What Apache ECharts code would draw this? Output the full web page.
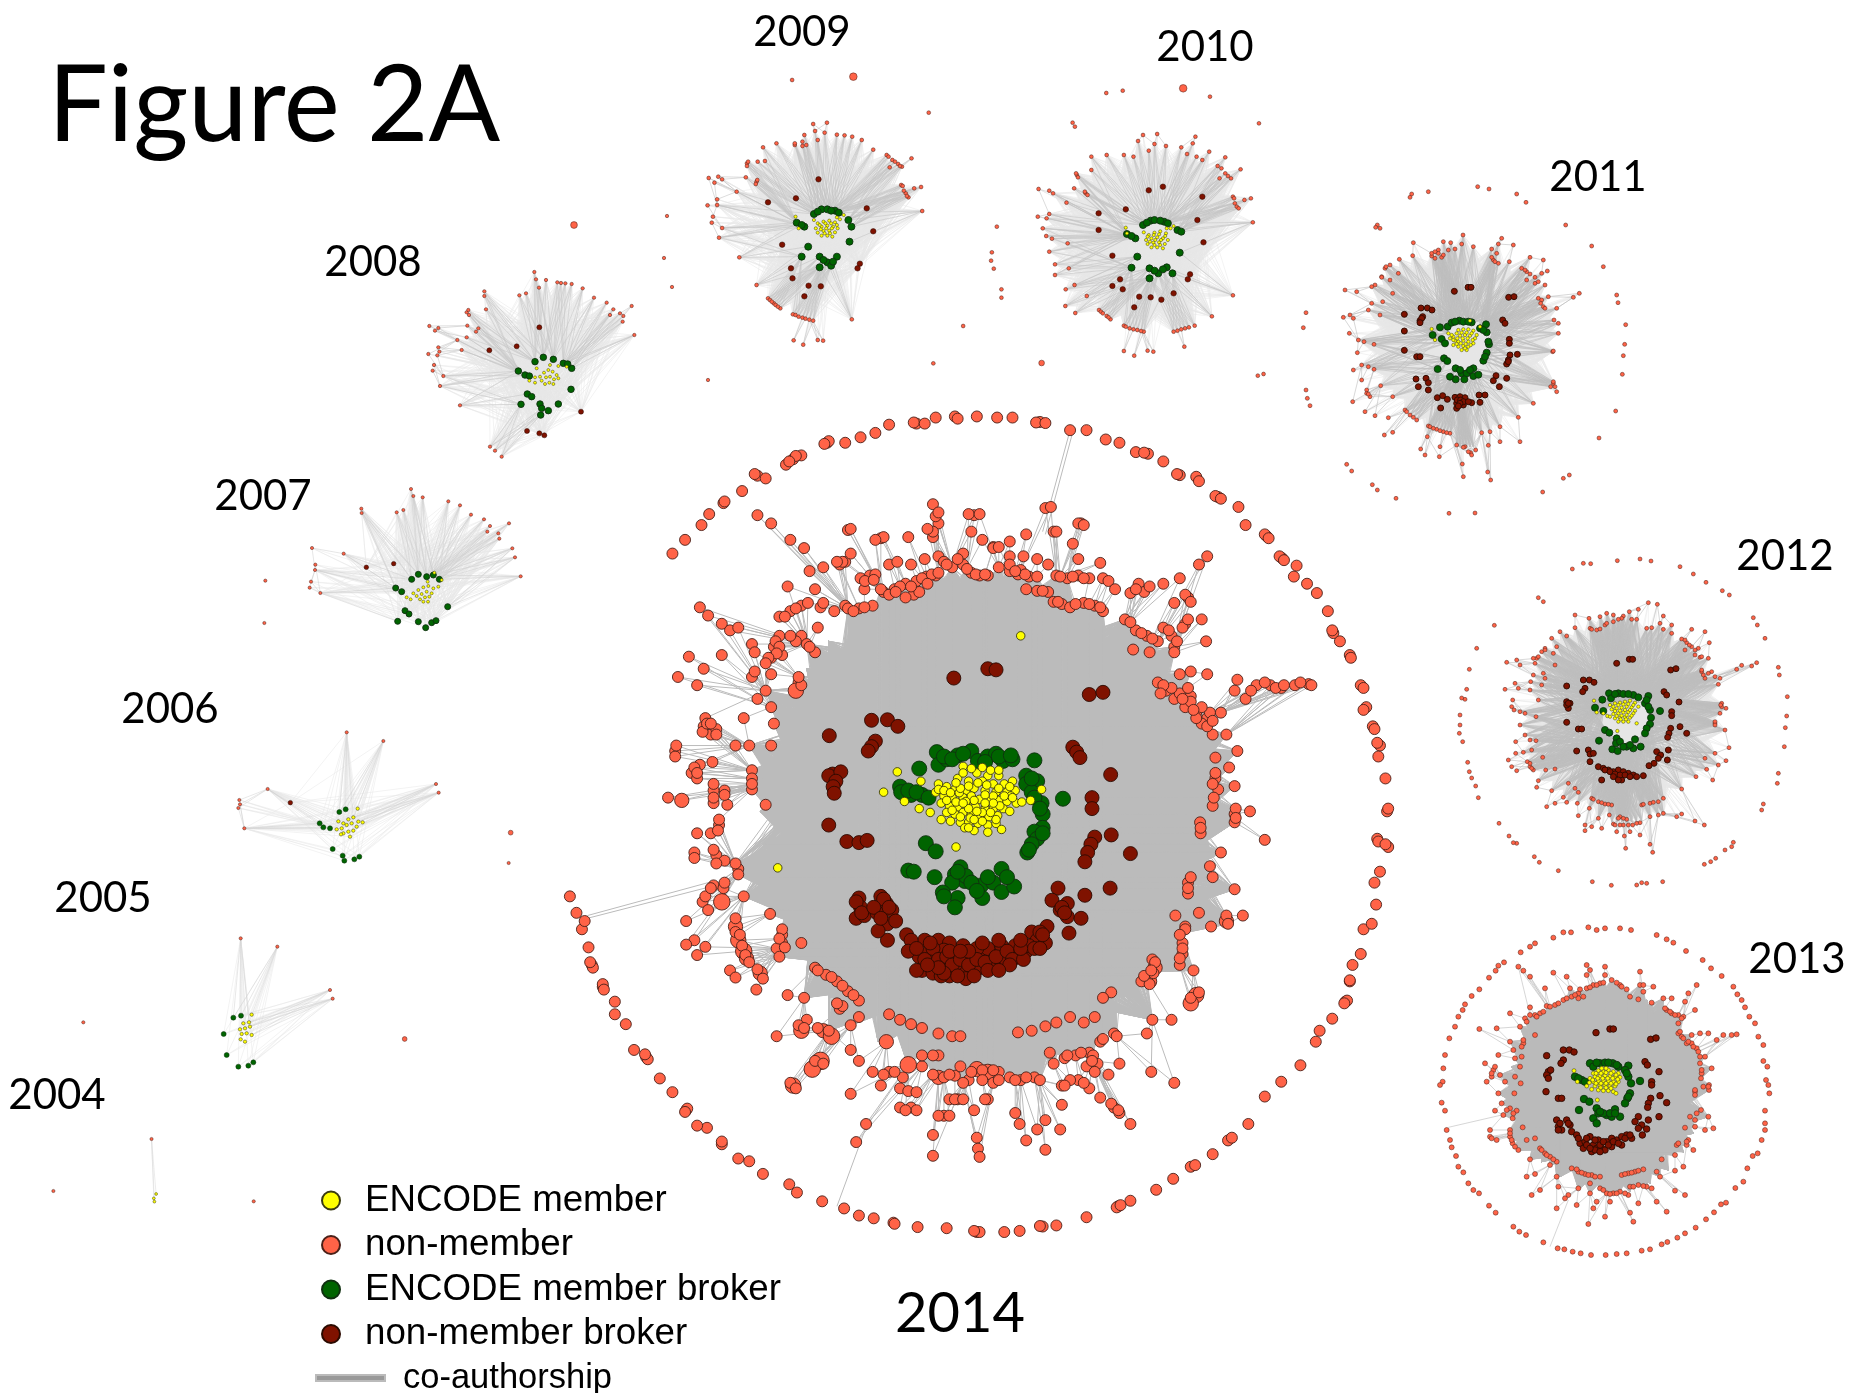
<!DOCTYPE html>
<html>
<head>
<meta charset="utf-8">
<title>Figure 2A</title>
<script src="https://cdn.jsdelivr.net/npm/echarts@6/dist/echarts.min.js"></script>
<style>
html, body { margin: 0; padding: 0; background: #fff; }
#chart { width: 1850px; height: 1393px; }
</style>
</head>
<body>
<div id="chart"></div>
<script>
// Year captions in page pixels
const yearNames = ['2004', '2005', '2006', '2007', '2008', '2009', '2010', '2011', '2012', '2013', '2014'];
const yearX = [57, 103, 170, 263, 373, 802, 1205, 1598, 1785, 1797, 960];
const yearY = [1095, 898, 709, 496, 262, 32, 47, 177, 556, 959, 1314];

// Node positions per year. Each year uses the axis units in its own grid below.
// third number = relative node degree where a node is clearly larger

// ---- 2014 ----
const outer2014 = [[205,280],[228,255],[258,228],[272,208],[298,188],[332,166],[360,138],[375,143],[412,118],[425,108],[440,101],[487,78],[520,78],[548,68],[575,60],[600,45],[650,43],[645,41],[685,32],[720,30],[725,34],[760,30],[797,32],[825,32],[875,40],[868,41],[885,42],[930,55],[960,55],[995,72],[1020,78],[1050,95],[1072,98],[1065,96],[1100,112],[1130,137],[1160,140],[1165,148],[1200,177],[1237,195],[1250,228],[1288,248],[1316,288],[1343,302],[1338,322],[1362,335],[1380,352],[1400,385],[1410,425],[1422,440],[1440,465],[1460,520],[1470,560],[1482,595],[1495,630],[1492,650],[1505,690],[1508,750],[1510,815],[1490,800],[1495,860],[1485,880],[1488,920],[1465,965],[1480,955],[1460,1010],[1445,1030],[1440,1060],[1432,1097],[1408,1128],[1385,1150],[1378,1170],[1350,1213],[1315,1243],[1285,1270],[1255,1320],[1218,1350],[1190,1375],[1150,1398],[1118,1420],[1087,1440],[1040,1460],[1018,1470],[960,1490],[905,1505],[880,1507],[838,1515],[810,1517],[760,1517],[705,1510],[652,1508],[608,1500],[572,1492],[545,1487],[518,1474],[478,1461],[432,1445],[418,1430],[370,1411],[345,1388],[325,1383],[295,1357],[268,1327],[250,1323],[230,1295],[205,1262],[182,1237],[157,1198],[135,1185],[120,1138],[100,1120],[100,1097],[78,1070],[58,1030],[52,998],[40,965],[45,950],[30,935],[18,905],[665,43],[490,75],[482,80],[430,102],[418,112],[355,135],[300,185],[1125,135],[1195,175],[1205,180],[1285,245],[1292,252],[1312,285],[1320,292],[1408,420],[1442,470],[1465,525],[1465,565],[1485,600],[1490,625],[1510,745],[1492,805],[1505,810],[1225,1345],[1015,1472],[1022,1468],[765,1517],[755,1515],[875,1506],[610,1502],[295,1352],[232,1292],[228,1298],[60,1035],[55,1025],[78,1065],[80,1075],[160,1202],[155,1193],[1435,1095],[1430,1100],[1440,1058],[1158,1395]];
const rim2014 = [[520,295],[510,300],[530,280],[565,320],[575,318],[548,325],[555,345],[590,350],[610,345],[630,335],[650,330],[668,322],[685,320],[645,355],[655,350],[600,300],[615,295],[640,300],[665,290],[690,285],[700,295],[715,305],[735,300],[750,315],[765,320],[780,320],[800,305],[820,285],[845,285],[870,290],[890,300],[820,312],[835,318],[855,322],[850,345],[870,348],[890,350],[900,368],[915,372],[930,378],[955,370],[975,375],[990,385],[905,320],[925,325],[945,320],[965,325],[990,325],[680,250],[690,225],[685,212],[680,190],[755,210],[750,240],[770,255],[735,280],[790,268],[820,258],[850,245],[885,197],[900,240],[950,225],[935,262],[945,290],[985,297],[525,237],[585,252],[635,250],[520,375],[545,380],[570,375],[500,385],[475,378],[480,305],[445,270],[420,255],[385,225],[360,210],[255,378],[270,393],[295,408],[310,420],[325,415],[350,445],[355,460],[295,465],[235,468],[262,490],[215,505],[250,520],[400,395],[420,385],[440,375],[465,345],[455,312],[415,340],[400,430],[390,450],[405,465],[385,470],[440,430],[470,415],[450,445],[465,460],[435,515],[430,530,1.4],[385,500],[375,530],[350,505],[360,545],[335,580],[385,560],[390,590],[385,630],[345,630],[320,630],[275,610],[262,595],[285,600],[265,580],[210,640],[255,665],[278,660],[300,712],[280,712],[240,680],[250,690],[350,675],[350,710],[375,738],[305,738],[280,735],[222,730,1.3],[197,725],[290,775],[250,790],[275,790],[245,825],[285,830],[300,840],[325,855],[280,885],[298,890],[335,905],[295,915,1.5],[260,915],[270,930],[230,950],[245,985],[265,997],[230,993],[250,1012],[320,960,1.3],[325,985,1.4],[335,1005,1.5],[340,1018,1.3],[365,1045,1.3],[405,975],[405,990],[395,1000],[440,990],[400,1015],[383,937],[310,1040],[320,1053],[358,1075],[395,1160],[415,1085],[445,1090],[465,1035],[485,1048],[505,1060],[525,1078],[545,1095],[510,1110],[545,1125],[440,1150,1.4],[450,1130],[480,1150,1.3],[495,1160,1.5],[530,1140],[530,1185],[545,1205],[595,1170,1.3],[475,1205,1.6],[460,1220,1.5],[425,1250,1.4],[570,1225],[585,1250],[530,1265],[600,1225],[625,1235],[635,1212,1.5],[660,1215],[690,1195],[640,1290],[620,1290],[650,1295],[700,1305],[690,1235,1.3],[720,1232],[745,1240],[760,1220,1.4],[780,1225,1.4],[800,1225],[790,1245],[820,1235],[840,1240],[865,1235],[725,1275],[755,1295],[780,1275],[830,1300],[838,1320],[870,1330],[912,1330],[915,1285],[885,1313],[680,1340],[760,1345],[762,1365],[765,1380],[680,1378],[850,1350],[885,1367],[558,1320],[540,1353],[600,1120],[620,1130],[640,1138],[660,1145],[690,1155],[715,1160],[730,1160],[835,1153],[860,1150],[885,1142],[905,1135],[930,1125],[955,1135],[975,1125],[893,1190],[920,1200],[940,1195],[965,1190],[985,1170],[1010,1155],[960,1215],[980,1210],[1000,1230],[915,1250],[945,1240],[965,1255],[985,1272],[1010,1290],[1020,1300],[1040,1320],[1078,1225],[1120,1245],[1020,1210],[1070,1155],[1080,1130],[1115,1130],[1160,1085,1.4],[1150,1100,1.4],[1005,1080],[990,1090],[1075,1060,1.3],[1085,1035,1.3],[1060,1060],[1080,1020],[1130,1030],[1135,1010],[1155,1040],[1122,940],[1140,960],[1135,990],[1165,935],[1145,880],[1145,900],[1185,850],[1190,870],[1187,960],[1215,950,1.3],[1230,892],[1245,940],[1285,802],[1167,770],[1168,790],[1205,825],[1230,755],[1230,770],[1258,750],[1195,690],[1200,710],[1190,740],[1220,670],[1230,704],[1195,652],[1235,640],[1215,610],[1190,610],[1205,570],[1180,580],[1160,570],[1140,560],[1120,545],[1105,530],[1090,515],[1150,540],[1170,590],[1185,570],[1130,500],[1150,495],[1180,500],[1235,510],[1250,545],[1270,520],[1295,520],[1315,525],[1340,520],[1365,518],[1230,530],[1115,430],[1100,415],[1120,450],[1075,460],[1045,455],[1030,400],[1050,420],[1070,430],[1090,440],[1140,408],[1170,400],[1178,440],[1120,370],[1145,360],[1055,335],[1065,350],[1100,335],[1130,325],[1165,300],[1180,285],[1040,352],
[556,330],[572,328],[585,345],[600,355],[620,340],[640,340],[660,325],[678,318],[630,360],[612,350],[670,335],[690,315],[705,300],[725,290],[742,308],[758,318],[775,318],[790,270],[800,268],[840,310],[848,318],[870,322],[880,348],[908,368],[940,372],[965,372],[985,378],[690,205],[680,240],[670,235],[745,208],[765,208],[590,250],[575,255],[530,235],[515,295],[505,295],[895,195],[945,225],[955,228],[905,240],[820,300],[830,312],[912,322],[935,322],[955,325],[1000,330],[1012,345],
[393,440],[400,450],[395,462],[410,395],[430,380],[452,370],[525,380],[535,385],[555,378],[480,370],[440,520],[435,505],[455,450],[430,440],[420,430],[380,470],[375,480],[355,495],
[210,650],[212,630],[260,605],[268,590],[275,590],[285,610],[280,700],[280,725],[290,765],[288,785],[350,690],[350,700],[245,670],[250,680],[300,720],[245,835],[280,820],[285,845],[320,845],[325,865],[265,905],[275,890],[300,880],
[320,945],[320,970],[328,975],[332,995],[338,1012],[345,1025],[360,1038],[370,1055],[405,965],[400,982],[410,998],[470,1040],[495,1052],[515,1068],[535,1085],[515,1105],[505,1100],[435,1140],[445,1145],[490,1150],[470,1145],[465,1205],[480,1210],[420,1245],[430,1255],
[680,1230],[700,1235],[710,1230],[730,1215],[735,1245],[750,1225],[770,1222],[790,1222],[770,1240],[800,1240],[830,1240],[850,1235],[875,1240],[620,1255],[635,1260],[650,1262],[660,1195],[680,1195],[610,1225],[590,1230],[630,1295],[710,1275],[720,1275],[735,1275],[775,1275],[690,1305],[710,1305],
[900,1210],[925,1195],[950,1190],[972,1195],[990,1165],[1015,1160],[970,1205],[975,1225],[930,1240],[955,1245],[920,1250],[1005,1283],[1018,1295],[1075,1065],[1082,1045],[1065,1050],[1085,1025],[1078,1040],[1150,1090],[1165,1080],[1135,1000],[1130,1018],[1145,890],[1150,870],[1140,965],[1130,975],[1215,940],[1218,955],
[1190,700],[1195,680],[1192,725],[1168,780],[1232,745],[1232,762],[1170,560],[1150,550],[1130,535],[1115,525],[1100,520],[1160,580],[1180,595],[1190,585],[1135,545],[1145,525],[1095,535],[1155,565],[1305,525],[1320,520],[1350,515],[1370,520],[1260,530],[1285,515],
[1110,420],[1125,440],[1120,460],[1040,405],[1060,425],[1080,435],[1135,415],[1145,400],[1050,345],[1075,340],[1140,355],[1150,368]];
const brown2014 = [[718,507],[780,490],[795,492],[965,537],[990,533],[568,584],[597,583],[616,595],[491,612],[575,622],[568,632],[562,640],[935,633],[942,642],[948,652],[1004,683],[497,682],[490,685],[512,678],[503,695],[498,705],[500,717],[970,725],[970,745],[490,775],[523,805],[545,807],[560,803],[1005,793],[1040,827],[975,797],[968,810],[962,825],[957,842],[1003,890],[908,890],[957,903],[897,912],[925,918],[912,930],[925,942],[950,945],[928,972],[545,908],[548,925],[540,945],[555,940],[585,905],[595,918],[605,930],[578,935],[597,955],[612,950],[597,985],[580,968],[632,975],[640,1000],[655,1015],[660,1040],[670,1010],[690,985],[685,1010],[700,1030],[710,1050],[725,1035],[740,1045],[755,1035],[720,1010],[745,1015],[770,1012],[790,1010],[810,1020],[835,1015],[850,1005],[860,970],[870,985],[885,990],[888,960],[855,995],[830,995],[805,995],[780,1000],[760,1000],[735,995],[710,990],[665,985],[700,1003],[680,1045],[695,1050],[650,1040],[790,1030],[765,1035],
[640,985],[635,1005],[650,1000],[665,1020],[680,1000],[690,1020],[705,1015],[715,1030],[730,1020],[745,1030],[760,1020],[775,1025],[780,1040],[795,1015],[815,1005],[825,1020],[845,1020],[865,1000],[875,970],[880,975],[840,1000],[820,1030],[800,1040],[740,1055],[725,1050],[700,1045],[690,1035],[670,1030],[675,990],[710,1005],[755,1050],[840,985],[800,985],[770,990],[745,1005],[730,1005],[875,1000],[540,915],[550,935],[590,910],[600,925],[572,925],[585,945],[915,925],[920,935]];
const green2014 = [[687,642],[690,665],[705,655],[725,648],[750,640],[762,658],[780,650],[795,645],[808,658],[825,655],[865,657],[850,685],[870,695],[850,700],[860,715],[878,735],[880,755],[917,727],[655,672],[620,705],[640,720],[660,720],[622,715],[880,780],[865,787],[870,800],[860,810],[852,825],[667,808],[685,823],[635,858],[645,860],[683,870],[720,865],[730,852],[738,877],[768,885],[805,855],[790,880],[805,897],[828,887],[715,880],[698,898],[725,908],[720,925],[770,908],[700,650],[715,655],[735,645],[775,660],[800,650],[822,648],[860,690],[865,725],[875,745],[635,712],[650,715],[672,725],[855,820],[880,790],[740,868],[750,880],[760,895],[780,870],[725,860],[815,870],[700,905]];
const yellow2014 = [[735,668],[760,680],[780,685],[800,685],[725,690],[745,695],[770,695],[790,700],[810,700],[825,695],[690,700],[705,705],[720,710],[740,712],[755,708],[775,712],[795,715],[815,715],[830,712],[685,715],[700,722],[715,725],[735,725],[750,722],[765,728],[785,730],[800,730],[815,732],[832,735],[695,735],[710,740],[725,742],[742,738],[758,742],[775,745],[790,745],[808,745],[820,750],[705,752],[720,755],[735,752],[750,755],[765,760],[782,760],[798,758],[712,768],[730,770],[745,770],[762,772],[780,775],[795,772],[695,765],[755,785],[780,788],[805,783],[615,678],[658,695],[628,732],[675,752],[655,745],[722,815],[842,733],[858,730],[878,710],[840,430],[397,853],[590,715],[690,710],[700,712],[712,716],[728,716],[745,704],[762,698],[778,702],[800,708],[822,722],[810,722],[790,722],[775,720],[755,730],[740,732],[722,733],[705,730],[715,748],[730,760],[748,762],[770,752],[785,752],[802,740],[790,735],[775,735],[760,750],[745,745],[735,735],[730,708],[795,765],[770,768],[755,765],[722,698],[735,680],[750,672],[770,670],[785,675],[800,675],[738,780],[745,780],[820,705],[825,725]];
const spurs2014 = [[[930,55],[880,240]],[[935,58],[885,245]],[[50,940],[270,880]],[[50,945],[272,888]],[[505,1470],[560,1320]]];
// where the edge bundles reach the edge of the grey disc
const discEdge2014 = [[770,318],[700,325],[640,345],[580,375],[530,400],[490,440],[450,490],[420,530],[395,580],[380,630],[370,690],[365,750],[370,810],[380,870],[395,930],[420,985],[450,1040],[490,1090],[530,1130],[580,1170],[630,1200],[700,1225],[770,1235],[840,1230],[900,1210],[960,1180],[1010,1140],[1055,1090],[1090,1040],[1120,990],[1150,930],[1170,870],[1185,810],[1190,750],[1188,690],[1175,630],[1150,580],[1120,520],[1080,470],[1040,430],[990,390],[930,355],[860,330]];

// ---- 2013 ----
const outer2013 = [[603,90],[570,85],[525,85],[500,90],[475,82],[423,97],[400,97],[370,113],[315,130],[300,140],[272,157],[222,187],[205,197],[197,212],[177,233],[148,268],[125,288],[105,313],[98,330],[85,350],[75,380],[58,415],[45,465],[40,505],[38,545],[30,555],[35,608],[45,632],[50,690],[60,720],[65,742],[78,768],[85,800],[100,817],[115,850],[130,870],[147,880],[177,917],[197,938],[250,980],[268,995],[288,1005],[340,1027],[383,1045],[403,1048],[428,1055],[452,1060],[483,1065],[527,1065],[560,1062],[590,1060],[635,1052],[660,1048],[695,1033],[712,1026],[742,1013],[765,1000],[797,983],[828,958],[852,937],[873,913],[888,908],[916,864],[940,845],[952,805],[983,760],[968,768],[995,720],[1005,690],[1005,670],[1005,632],[1018,580],[1015,555],[1008,540],[1012,500],[1000,483],[1000,435],[985,410],[975,370],[958,350],[945,322],[935,300],[922,283],[910,260],[875,228],[843,205],[818,180],[768,153],[730,128],[710,118],[680,105]];
const rim2013 = [[470,195],[480,210],[470,225],[525,200],[525,225],[410,230],[370,218],[345,265],[420,265],[445,280],[470,265],[490,255],[510,250],[545,240],[570,255],[590,268],[630,215],[630,255],[640,275],[600,290],[625,298],[665,308],[445,295],[425,290],[400,300],[375,315],[350,318],[330,340],[315,345],[300,322],[285,355],[270,380],[315,405],[265,200],[280,212],[300,230],[240,340],[200,385],[148,387],[205,465],[165,490],[240,425],[250,450],[280,430],[275,470],[255,475],[270,500],[255,530],[210,525],[190,510],[185,530],[170,545],[225,545],[272,550],[253,580],[205,580],[215,610],[240,625],[260,632],[220,645],[248,655],[195,632],[180,690],[180,710],[185,715],[200,720],[240,690],[240,710],[248,730],[265,750],[278,682],[315,715],[290,720],[300,778],[330,745],[345,760],[360,770],[380,785],[360,795],[315,822],[290,830],[305,885],[330,870],[380,830],[385,860],[415,885],[440,915],[405,895],[380,925],[445,865],[480,850],[480,880],[500,905],[490,925],[525,950],[475,972],[540,905],[600,938],[610,965],[625,910],[680,905],[710,935],[425,805],[445,815],[465,822],[485,825],[510,830],[575,825],[595,820],[615,815],[640,808],[510,865],[530,880],[550,880],[570,875],[595,885],[600,860],[625,855],[650,860],[665,865],[690,830],[680,815],[735,872],[765,885],[735,812],[760,800],[775,720],[770,735],[740,735],[735,765],[795,680],[825,690],[850,685],[835,650],[790,750],[695,778],[765,683],[795,660],[780,650],[800,640],[813,630],[795,575],[795,585],[837,555],[837,570],[815,520],[813,535],[820,560],[845,505],[810,470],[825,470],[800,445],[785,430],[770,430],[755,410],[745,400],[785,405],[810,400],[860,420],[880,405],[905,405],[920,403],[835,400],[765,305],[795,330],[760,350],[745,345],[725,340],[710,330],[745,370],[700,295],[725,295],[775,280],[800,255],[670,260],[640,255],
[450,268],[460,290],[480,262],[500,255],[520,248],[435,285],[410,295],[385,310],[360,320],[340,335],[320,350],[300,345],[290,365],[705,325],[720,335],[735,345],[755,355],[750,395],[760,415],[775,425],[790,440],[805,455],[575,260],[560,248],[440,808],[455,818],[475,825],[495,830],[585,822],[605,818],[625,812],[520,870],[540,882],[560,880],[585,880],[610,860],[640,858],[240,700],[245,720],[255,740],[335,750],[350,765],[370,778],[810,490],[815,510],[795,570],[835,560],[770,725],[745,730],[280,420],[275,440],[185,520],[195,500],[230,630],[250,640]];
const brown2013 = [[498,398],[540,387],[550,387],[662,418],[678,414],[400,450],[418,450],[432,456],[350,467],[400,480],[393,490],[645,485],[652,495],[687,515],[355,515],[350,525],[362,510],[355,535],[665,545],[665,555],[348,575],[385,595],[395,595],[690,587],[710,608],[662,595],[655,610],[653,622],[687,650],[625,650],[655,660],[615,665],[635,675],[625,685],[650,687],[637,705],[380,660],[385,680],[395,690],[410,660],[420,675],[425,695],[440,705],[450,730],[465,725],[460,745],[480,710],[490,735],[485,755],[505,720],[515,745],[530,725],[545,740],[560,720],[575,735],[590,705],[605,715],[575,710],[545,715],[500,745],[525,750],[445,715],[470,715],[470,735],[495,720],[495,750],[510,735],[520,725],[535,735],[550,725],[565,730],[585,715],[600,705],[480,745],[510,755],[390,670],[415,670],[385,690]];
const green2013 = [[480,490],[490,500],[510,490],[525,488],[548,490],[565,500],[595,497],[585,510],[595,530],[603,550],[630,543],[435,530],[455,540],[465,545],[600,580],[592,595],[585,610],[462,597],[478,605],[447,630],[500,625],[505,640],[530,645],[555,628],[545,650],[490,655],[500,670],[570,650],[500,488],[535,488],[560,495],[590,520],[445,535],[595,590],[520,640],[540,640],[555,640],[510,635]];
const yellow2013 = [[490,520],[505,512],[520,515],[535,510],[550,515],[565,520],[480,535],[495,530],[510,528],[525,527],[540,528],[555,530],[570,532],[478,548],[490,545],[505,543],[520,542],[535,543],[550,545],[565,545],[495,558],[510,556],[525,556],[540,558],[555,558],[505,570],[520,572],[535,572],[550,575],[485,568],[470,558],[442,545],[432,512],[558,580],[502,600],[498,520],[513,520],[528,518],[543,520],[558,525],[488,540],[503,535],[518,535],[533,535],[548,535],[563,538],[498,550],[513,550],[528,550],[543,550],[558,552],[512,563],[528,563],[543,565],[528,505],[515,505]];
const spurs2013 = [[[55,682],[215,645]],[[360,1040],[415,900]]];
const discEdge2013 = [[525,262],[460,272],[400,295],[345,335],[300,385],[265,440],[245,500],[235,560],[240,620],[258,680],[290,735],[335,785],[390,830],[450,865],[525,880],[600,875],[660,850],[715,810],[760,755],[790,700],[808,640],[812,570],[805,500],[780,440],[745,380],[700,335],[650,300],[590,272]];

// ---- 2012 ----
const outer2012 = [[603,33],[570,27],[502,32],[422,41],[400,40],[367,57],[690,50],[730,72],[768,97],[817,122],[838,135],[910,203],[922,225],[945,265],[985,352],[988,375],[1012,440],[1010,498],[1006,533],[1003,590],[985,670],[982,700],[940,762],[935,780],[850,877],[825,900],[845,890],[797,925],[782,935],[763,943],[638,995],[590,1000],[560,1005],[575,998],[484,1006],[427,995],[325,962],[268,937],[253,920],[200,880],[190,878],[177,858],[147,820],[85,743],[77,708],[65,684],[58,665],[53,637],[38,575],[28,550],[30,525],[30,495],[45,448],[35,444],[50,418],[58,358],[80,295],[133,226],[265,143],[280,155]];
const rim2012 = [[622,163],[595,158],[565,178],[538,185],[520,198],[490,195],[470,190],[450,200],[417,205],[375,195],[375,233],[420,235],[440,240],[465,225],[490,215],[515,205],[545,208],[560,208],[590,235],[605,233],[630,220],[640,198],[665,225],[640,238],[665,250],[725,238],[765,245],[778,278],[695,267],[710,278],[725,290],[745,295],[705,300],[735,315],[750,322],[775,325],[350,258],[330,245],[305,265],[285,295],[275,305],[320,290],[310,310],[315,345],[260,325],[250,325],[255,340],[200,330],[170,337],[210,345],[242,395],[280,370],[285,385],[275,405],[250,375],[205,415],[195,400],[165,418],[240,420],[265,450],[225,490],[210,485],[188,450],[185,470],[192,480],[258,500],[210,525],[197,575],[225,555],[240,570],[258,572],[197,610],[220,607],[245,600],[232,635],[240,650],[250,660],[175,630],[185,650],[200,662],[265,692],[287,660],[315,657],[278,622],[260,712],[305,722],[355,700],[375,715],[340,742],[385,727],[315,760],[290,770],[350,757],[382,760],[418,775],[385,797],[405,825],[425,830],[445,805],[455,835],[405,842],[425,745],[445,755],[465,762],[485,765],[478,795],[500,845],[523,858],[527,895],[540,845],[570,855],[600,883],[608,907],[510,800],[530,808],[490,822],[520,825],[548,825],[570,818],[575,765],[600,760],[625,755],[640,745],[600,800],[625,795],[640,790],[695,792],[680,800],[735,813],[763,825],[695,717],[738,680],[788,690],[770,658],[765,625],[795,610],[805,645],[828,632],[837,593],[795,520],[815,460],[815,470],[828,475],[825,540],[810,490],[805,403],[795,380],[785,365],[765,385],[755,365],[810,385],[860,358],[875,346],[905,348],[920,338],[425,238],[450,237],[470,220],[505,208],[705,270],[718,285],[735,300],[755,320],[430,748],[455,758],[475,763],[580,763],[610,757],[505,805],[520,805],[495,825],[510,825],[535,825],[560,820],[285,300],[265,320],[240,640],[245,655],[755,360],[760,375],[775,370],[812,465],[795,515],[795,525]];
const brown2012 = [[500,340],[538,328],[548,328],[662,360],[678,356],[400,390],[418,390],[432,397],[350,408],[405,415],[398,425],[642,425],[650,435],[687,456],[350,455],[360,460],[355,475],[350,517],[385,537],[395,537],[665,485],[665,497],[690,530],[710,550],[662,535],[657,550],[653,562],[380,603],[415,600],[420,612],[420,635],[655,600],[620,605],[632,615],[625,625],[652,630],[612,640],[597,647],[580,677],[445,650],[460,655],[475,660],[490,665],[505,660],[520,665],[535,670],[550,675],[560,680],[500,680],[515,690],[455,690],[430,610],[465,660],[480,665],[495,672],[510,675],[525,675],[540,680],[490,680],[505,690],[350,465],[355,460]];
const green2012 = [[477,430],[483,445],[505,430],[520,432],[550,435],[565,442],[595,438],[585,460],[600,480],[603,503],[630,483],[457,449],[435,473],[460,483],[600,522],[590,535],[585,550],[465,540],[478,548],[447,572],[500,565],[498,580],[530,590],[555,568],[550,595],[487,598],[503,603],[572,590],[495,432],[535,432],[590,450],[595,470],[510,575],[520,590],[540,585]];
const yellow2012 = [[480,465],[495,460],[510,458],[525,455],[540,452],[555,458],[565,470],[485,478],[500,475],[515,473],[530,470],[545,472],[555,482],[490,492],[505,490],[520,487],[535,486],[550,490],[495,505],[510,503],[525,502],[540,503],[505,515],[520,515],[535,515],[472,498],[460,490],[440,487],[432,452],[560,520],[502,543],[480,500],[490,470],[505,465],[520,463],[535,462],[550,465],[495,483],[510,482],[525,480],[540,480],[500,498],[515,497],[530,495],[545,497],[512,508],[528,508]];
const discEdge2012 = [[485,815],[500,815],[515,815],[530,815],[545,815],[560,815],[575,812]];

// ---- 2011 ----
const outer2011 = [[567,57],[533,50],[385,65],[335,72],[330,82],[650,72],[678,97],[797,165],[875,228],[910,290],[950,375],[954,398],[977,464],[974,523],[970,557],[967,613],[947,723],[897,804],[808,915],[790,925],[728,966],[525,1029],[447,1030],[288,985],[232,960],[217,944],[155,903],[140,883],[30,707],[22,685],[18,660],[10,473],[18,428],[232,165],[227,172],[240,175]];
const rim2011 = [[489,195],[340,218],[430,215],[452,218],[485,222],[520,230],[605,205],[595,222],[640,225],[575,237],[415,240],[395,258],[405,265],[425,262],[465,237],[445,240],[590,250],[580,270],[595,280],[628,275],[690,262],[730,270],[742,303],[665,295],[680,305],[705,322],[725,310],[680,330],[705,340],[338,257],[270,285],[255,295],[298,268],[295,310],[245,320],[270,330],[225,345],[278,370],[215,350],[248,395],[215,400],[205,420],[240,435],[170,365],[135,360],[150,435],[130,442],[160,445],[222,523],[175,510],[192,515],[148,490],[172,548],[185,585],[205,590],[222,598],[160,600],[185,630],[200,660],[210,680],[242,647],[278,680],[158,695],[195,725],[225,737],[265,743],[315,720],[330,735],[350,750],[362,837],[375,855],[418,860],[420,830],[382,800],[278,787],[253,795],[385,768],[410,778],[430,785],[450,790],[470,825],[495,830],[512,848],[527,840],[487,882],[490,920],[563,906],[572,930],[565,826],[600,815],[660,815],[545,788],[570,785],[600,770],[655,742],[700,700],[760,640],[770,665],[752,650],[758,545],[775,490],[762,450],[775,460],[730,410],[715,385],[745,380],[770,415],[838,370],[820,382],[735,345],[760,543],[395,250],[415,250],[430,255],[390,770],[400,775],[420,782],[440,788],[490,832],[505,845],[515,855],[320,725],[340,742],[200,670],[205,672],[675,300],[690,312],[715,335],[725,390],[722,400],[735,415],[760,635],[765,650],[245,322],[258,290],[575,262],[585,275],[405,245]];
const brown2011 = [[463,364],[504,352],[513,352],[626,382],[642,380],[363,414],[382,414],[396,420],[313,433],[368,440],[360,452],[608,450],[615,460],[313,483],[313,541],[350,560],[360,560],[628,508],[628,520],[652,553],[630,555],[625,570],[620,582],[348,627],[378,625],[385,638],[355,650],[385,660],[588,617],[580,632],[620,625],[598,650],[412,683],[428,677],[442,688],[465,682],[480,680],[495,683],[515,698],[470,700],[490,705],[470,715],[422,714],[540,697],[555,675],[537,675],[472,690],[482,690],[490,695],[505,695],[480,700],[475,708],[365,445],[360,458],[625,575]];
const green2011 = [[443,470],[455,458],[478,452],[515,457],[540,475],[560,487],[558,463],[420,472],[398,495],[425,507],[435,520],[567,523],[560,548],[550,572],[432,565],[442,573],[413,597],[467,595],[485,610],[500,610],[520,595],[467,628],[450,620],[493,628],[520,618],[535,614],[465,455],[490,455],[505,455],[550,480],[565,515],[555,560],[480,600],[510,600]];
const yellow2011 = [[445,490],[460,500],[475,480],[490,478],[505,478],[520,482],[530,495],[450,505],[465,512],[480,497],[495,495],[510,497],[525,505],[460,525],[475,515],[490,512],[505,515],[520,520],[475,530],[490,528],[505,530],[485,540],[500,540],[405,510],[395,477],[540,470],[510,452],[455,495],[470,490],[485,488],[500,488],[515,490],[460,510],[472,505],[488,505],[503,505],[518,510],[470,522],[482,520],[497,522],[512,525],[495,535]];
const discEdge2011 = [[480,830],[490,830],[500,830],[510,830],[520,830]];

// ---- 2009 and 2010 share one crop of the picture ----
const outer2009 = [[293,60],[453,50,2],[650,158],[828,500],[815,577],[813,602],[820,626],[840,688],[840,713],[740,798],[662,910]];
const rim2009 = [[348,192],[384,188],[325,225],[353,213],[378,218],[410,224],[430,226],[450,230],[475,240],[505,269],[540,285],[555,300],[570,312],[580,320],[605,295],[548,322],[578,375],[590,400],[597,412],[612,385],[630,381],[633,453],[360,240],[320,258],[300,255],[252,250],[217,262],[175,310],[172,352],[200,365],[198,372],[222,303],[203,305],[100,350],[110,358],[75,354],[90,368],[148,395],[97,418],[72,436],[97,435],[86,470],[83,488],[110,504],[102,533],[155,592],[200,675],[230,715],[245,730],[262,745],[295,763],[320,773],[348,782],[449,778],[297,841],[322,854],[360,840],[374,842],[235,720],[240,725],[250,735],[256,740],[302,765],[310,770],[328,776],[338,779],[582,378],[585,392],[593,408],[545,290],[562,305],[575,318],[300,250],[330,255],[320,245],[175,318],[178,305],[202,360]];
const brown2009 = [[362,358],[303,415],[230,427],[488,445],[505,514],[267,554],[290,625],[294,655],[336,677],[368,679],[325,709],[470,611],[464,625]];
const green2009 = [[350,462],[370,448],[405,452],[440,480],[448,500],[305,488],[325,500],[443,545],[335,560],[318,590],[365,590],[410,590],[385,607],[365,622],[395,617],[360,455],[385,448],[395,452],[415,458],[318,495],[375,600],[400,605]];
const yellow2009 = [[350,480],[360,490],[375,485],[390,482],[405,487],[418,478],[355,505],[370,500],[385,497],[400,500],[412,505],[360,518],[375,513],[390,512],[405,517],[370,527],[385,527],[398,530],[302,470],[310,505],[428,465],[410,472],[365,495],[380,490],[395,490],[410,495],[368,508],[382,505],[397,505],[378,520],[392,520]];
const outer2010 = [[1157,92],[1114,99],[1315,85,2],[1385,110],[1513,190],[945,909,1.5],[1510,947],[1525,942],[1026,188],[1032,200]];
const rim2010 = [[1210,225],[1247,222],[1197,243],[1240,252],[1270,258],[1310,262],[1340,250],[1347,230],[1365,300],[1325,282],[1350,290],[1405,318],[1425,340],[1440,355],[1465,328],[1410,355],[1425,292],[1383,275],[1445,410],[1455,440],[1475,420],[1492,415],[1497,487],[1225,272],[1185,290],[1160,285],[1115,285],[1075,290],[1037,345],[1030,385],[1060,400],[1075,330],[937,387],[965,392],[975,400],[1010,428],[965,462],[935,470],[958,475],[948,505],[957,528],[972,536],[965,575],[1013,550],[1016,625],[980,613],[980,645],[1031,675],[1063,708],[1095,750],[1115,768],[1125,778],[1160,797],[1185,808],[1212,815],[1290,815],[1320,805],[1345,797],[1160,873],[1187,887],[1222,872],[1237,875],[1390,769],[1445,706],[1318,860],[1033,759],[1007,738],[1008,688],[1100,755],[1105,760],[1120,772],[1165,800],[1175,805],[1195,810],[1205,813],[1300,812],[1310,808],[1330,802],[1448,415],[1450,430],[1460,445],[1415,325],[1432,348],[1035,340],[1040,352],[1058,395],[1065,405]];
const brown2010 = [[1225,391],[1262,380],[1165,448],[1094,460],[1094,510],[1365,410],[1352,480],[1368,547],[1130,587],[1150,658],[1157,688],[1130,678],[1200,710],[1230,712],[1187,742],[1333,643],[1327,658],[1290,700],[1258,719]];
const green2010 = [[1210,495],[1230,482],[1265,485],[1300,510],[1310,515],[1168,522],[1190,535],[1306,578],[1195,590],[1180,623],[1227,625],[1272,622],[1250,640],[1227,655],[1287,640],[1220,488],[1240,480],[1255,482],[1275,490],[1180,528],[1240,632],[1262,628]];
const yellow2010 = [[1212,517],[1225,525],[1240,518],[1255,514],[1270,520],[1282,505],[1218,540],[1232,535],[1247,532],[1262,535],[1275,540],[1222,552],[1237,548],[1252,547],[1267,552],[1232,562],[1247,562],[1262,565],[1165,503],[1168,520],[1290,498],[1272,505],[1222,530],[1238,525],[1252,523],[1268,528],[1228,545],[1242,540],[1257,540],[1240,555],[1255,555]];

// ---- 2008 ----
const outer2008 = [[522,-105,2],[801,-132],[792,-6],[816,81],[924,360]];
const rim2008 = [[403,36],[408,58],[438,60],[472,67],[483,69],[496,70],[515,72],[548,85],[582,113],[417,83],[358,106],[378,100],[253,94],[253,108],[258,148],[200,157],[205,150],[207,165],[202,197],[235,205],[228,215],[88,198],[115,204],[105,212],[172,240],[200,232],[115,262],[85,282],[112,286],[118,275],[102,315],[98,332],[130,348],[120,378],[185,270],[620,128],[640,148],[660,160],[670,168],[630,165],[668,185],[695,138],[703,225],[180,436],[270,560],[285,572],[305,590]];
const brown2008 = [[268,271],[350,259],[418,202],[381,513],[418,520],[433,526],[543,455]];
const green2008 = [[405,305],[430,292],[460,298],[490,310],[515,325],[503,312],[355,333],[375,345],[388,348],[513,388],[382,402],[395,410],[363,433],[420,432],[425,445],[445,452],[475,432],[422,465]];
const yellow2008 = [[410,325],[420,350],[432,338],[445,330],[458,335],[470,345],[425,362],[438,352],[450,350],[462,358],[475,355],[435,372],[448,368],[460,372],[405,352],[405,368],[450,315],[475,318],[500,320],[388,362]];

// ---- 2007 and 2006 share one crop ----
const outer2007 = [[196,302],[193,429]];
const rim2007 = [[633,27],[640,48],[668,52],[484,86],[485,99],[590,97],[610,90],[745,64],[780,76],[813,104],[852,118],[870,138],[862,155],[927,130],[895,160],[898,176],[937,205],[945,232],[962,289],[336,204],[431,221],[346,254],[345,270],[333,305],[329,323],[361,339]];
const brown2007 = [[499,262],[581,251]];
const green2007 = [[635,298],[655,283],[680,290],[700,285],[718,298],[587,324],[605,335],[743,380],[615,392],[627,402],[593,424],[655,425],[677,443],[695,428],[708,422]];
const yellow2007 = [[640,340],[655,330],[670,322],[685,318],[700,325],[650,348],[665,342],[680,335],[695,340],[660,358],[675,352],[688,350],[670,365],[684,365],[620,352],[632,358],[715,320],[725,300],[683,305],[703,278]];
const outer2006 = [[932,1058,1.5],[926,1149]];
const rim2006 = [[440,757],[550,783],[708,912],[716,938],[203,927],[118,960],[120,973],[115,984],[133,1045]];
const brown2006 = [[271,968]];
const green2006 = [[437,988],[418,996],[359,1030],[370,1042],[390,1045],[398,1107],[428,1127],[433,1142],[463,1138],[478,1130]];
const yellow2006 = [[415,1024],[430,1030],[445,1018],[460,1012],[475,1025],[410,1048],[425,1045],[440,1035],[455,1030],[470,1040],[430,1060],[445,1055],[460,1052],[450,1070],[473,986],[488,1027],[423,1063]];

// ---- 2005 ----
const outer2005 = [[70,307],[1034,357,1.5]];
const rim2005 = [[542,55],[652,80],[810,210],[818,236]];
const green2005 = [[543,287],[520,293],[491,342],[500,405],[535,440],[565,437],[580,427]];
const yellow2005 = [[550,310],[567,307],[540,328],[555,325],[570,320],[545,342],[560,340],[575,345],[542,358],[555,365],[575,284]];

// ---- 2004 ----
const outer2004 = [[93,423],[442,454]];
const rim2004 = [[264,267]];
const yellow2004 = [[272,432],[268,445],[269,455]];

// Build one grid per crop, so each year keeps the axis units it was read in
const grids = [];
const xAxes = [];
const yAxes = [];
const series = [];

function addGrid(left, top, width, height, xMax, yMax) {
    grids.push({ left: left, top: top, width: width, height: height, show: false });
    xAxes.push({ type: 'value', gridIndex: grids.length - 1, min: 0, max: xMax, show: false });
    yAxes.push({ type: 'value', gridIndex: grids.length - 1, min: 0, max: yMax, inverse: true, show: false });
    return grids.length - 1;
}

function nodeSeries(name, data, gridIdx, size, color, border, z) {
    return {
        type: 'scatter',
        name: name,
        data: data,
        xAxisIndex: gridIdx,
        yAxisIndex: gridIdx,
        clip: false,
        z: z,
        symbolSize: v => size * (v[2] || 1),
        itemStyle: { color: color, borderColor: border, borderWidth: size < 6 ? 0.5 : 0.9, opacity: 1 },
        emphasis: { disabled: true },
        silent: true
    };
}

function edgeSeries(pairs, gridIdx, color, width, z) {
    return {
        type: 'lines',
        name: 'co-authorship',
        coordinateSystem: 'cartesian2d',
        xAxisIndex: gridIdx,
        yAxisIndex: gridIdx,
        clip: false,
        large: true,
        largeThreshold: 1,
        progressive: 0,
        silent: true,
        z: z,
        lineStyle: { color: color, width: width, opacity: 1, curveness: 0 },
        data: pairs.map(p => ({ coords: p }))
    };
}

function dist2(a, b) {
    return (a[0] - b[0]) * (a[0] - b[0]) + (a[1] - b[1]) * (a[1] - b[1]);
}

function nearest(node, list, count) {
    return list.slice().sort((p, q) => dist2(node, p) - dist2(node, q)).slice(0, count);
}

function pair(a, b) {
    return [[a[0], a[1]], [b[0], b[1]]];
}

// Which author is joined to which is not readable pixel by pixel, so edges come from the nodes:
// authors on the disc join the core (all of it, or the nearest few in the sparse early years),
// authors further out join the disc edge next to them
function addNetwork(net) {
    const core = (net.green || []).concat((net.yellow || []).slice(0, net.coreLinks || 4));
    const brokers = net.brown || [];
    const discR2 = net.discR * net.discR;
    const inner = net.rim.filter(n => dist2(n, net.center) <= discR2);
    const outside = net.rim.filter(n => dist2(n, net.center) > discR2);
    const dark = (net.spurs || []).slice();
    const light = [];
    inner.forEach(a => {
        if (net.nearCore) {
            const close = nearest(a, core, net.nearCore);
            close.forEach(b => dark.push(pair(a, b)));
            core.forEach(b => { if (!close.includes(b)) light.push(pair(a, b)); });
            brokers.forEach(b => light.push(pair(a, b)));
        } else {
            core.forEach(b => dark.push(pair(a, b)));
            brokers.forEach(b => dark.push(pair(a, b)));
        }
    });
    (net.discEdge || []).forEach(a => {
        const hubs = core.concat(brokers);
        (net.nearCore ? nearest(a, hubs, 14) : hubs).forEach(b => dark.push(pair(a, b)));
    });
    outside.forEach(a => {
        nearest(a, inner, 2).forEach(b => dark.push(pair(a, b)));
        if (net.nearCore) nearest(a, core, 3).forEach(b => light.push(pair(a, b)));
    });
    if (light.length) series.push(edgeSeries(light, net.grid, '#e6e6e6', 0.5, 1));
    series.push(edgeSeries(dark, net.grid, net.edgeColor, net.edgeWidth, 2));
    series.push(nodeSeries('non-member', (net.outer || []).concat(net.rim), net.grid, net.sizes[0], '#ff6347', '#4a2018', 3));
    if (net.brown) series.push(nodeSeries('non-member broker', net.brown, net.grid, net.sizes[1], '#7f1200', '#2a0a00', 4));
    if (net.green) series.push(nodeSeries('ENCODE member broker', net.green, net.grid, net.sizes[1] + (net.greenExtra || 0), '#006400', '#103010', 5));
    series.push(nodeSeries('ENCODE member', net.yellow, net.grid, net.sizes[2], '#ffff00', '#3a3a10', 6));
}

const pageGrid = addGrid(0, 0, 1850, 1393, 1850, 1393);

addNetwork({ grid: addGrid(560, 400, 860, 860, 1568, 1568), center: [780, 775], discR: 475, outer: outer2014, rim: rim2014, brown: brown2014, green: green2014, yellow: yellow2014, spurs: spurs2014, discEdge: discEdge2014, sizes: [11, 14, 8.5], greenExtra: 1, edgeColor: '#bbbbbb', edgeWidth: 1 });
addNetwork({ grid: addGrid(1430, 900, 420, 380, 1260, 1140), center: [525, 560], discR: 325, outer: outer2013, rim: rim2013, brown: brown2013, green: green2013, yellow: yellow2013, spurs: spurs2013, discEdge: discEdge2013, sizes: [5, 6.5, 4], greenExtra: 1, edgeColor: '#bbbbbb', edgeWidth: 0.6 });
addNetwork({ grid: addGrid(1450, 550, 360, 350, 1080, 1050), center: [520, 500], discR: 320, outer: outer2012, rim: rim2012, brown: brown2012, green: green2012, yellow: yellow2012, discEdge: discEdge2012, nearCore: 16, sizes: [4, 6, 3.4], greenExtra: 1, edgeColor: '#bdbdbd', edgeWidth: 0.6 });
addNetwork({ grid: addGrid(1300, 170, 360, 360, 1080, 1080), center: [490, 510], discR: 320, outer: outer2011, rim: rim2011, brown: brown2011, green: green2011, yellow: yellow2011, discEdge: discEdge2011, nearCore: 8, sizes: [4, 6, 3.4], greenExtra: 1, edgeColor: '#bdbdbd', edgeWidth: 0.6 });
const crop0910 = addGrid(680, 60, 600, 320, 1568, 960);
addNetwork({ grid: crop0910, center: [1245, 540], discR: 310, outer: outer2010, rim: rim2010, brown: brown2010, green: green2010, yellow: yellow2010, nearCore: 4, sizes: [3.8, 5.5, 3.2], greenExtra: 1.5, edgeColor: '#c4c4c4', edgeWidth: 0.6 });
addNetwork({ grid: crop0910, center: [385, 505], discR: 300, outer: outer2009, rim: rim2009, brown: brown2009, green: green2009, yellow: yellow2009, nearCore: 4, sizes: [3.8, 5.5, 3.2], greenExtra: 1.5, edgeColor: '#c4c4c4', edgeWidth: 0.6 });
addNetwork({ grid: addGrid(400, 260, 260, 210, 780, 630), center: [440, 350], discR: 330, outer: outer2008, rim: rim2008, brown: brown2008, green: green2008, yellow: yellow2008, nearCore: 3, sizes: [3.4, 5, 3], greenExtra: 1.5, edgeColor: '#c8c8c8', edgeWidth: 0.6 });
const crop0706 = addGrid(200, 480, 360, 420, 1080, 1260);
addNetwork({ grid: crop0706, center: [675, 340], discR: 340, outer: outer2007, rim: rim2007, brown: brown2007, green: green2007, yellow: yellow2007, nearCore: 3, sizes: [3.2, 4.5, 3], greenExtra: 1.5, edgeColor: '#cccccc', edgeWidth: 0.5 });
addNetwork({ grid: crop0706, center: [447, 1035], discR: 320, outer: outer2006, rim: rim2006, brown: brown2006, green: green2006, yellow: yellow2006, coreLinks: 14, nearCore: 3, sizes: [3.2, 4.5, 3.4], greenExtra: 0.5, edgeColor: '#d0d0d0', edgeWidth: 0.5 });
addNetwork({ grid: addGrid(60, 920, 360, 180, 1080, 540), center: [553, 340], discR: 320, outer: outer2005, rim: rim2005, green: green2005, yellow: yellow2005, coreLinks: 8, nearCore: 3, sizes: [3.2, 5, 3.4], edgeColor: '#d0d0d0', edgeWidth: 0.5 });
addNetwork({ grid: addGrid(0, 1050, 900, 343, 1568, 1029), center: [270, 440], discR: 300, outer: outer2004, rim: rim2004, yellow: yellow2004, sizes: [3.2, 4, 2.8], edgeColor: '#d8d8d8', edgeWidth: 0.5 });

// year captions sit on the whole-page grid
series.push({
    type: 'scatter',
    xAxisIndex: pageGrid,
    yAxisIndex: pageGrid,
    symbolSize: 1,
    itemStyle: { color: 'rgba(0,0,0,0)', opacity: 1 },
    silent: true,
    z: 10,
    data: yearNames.map((y, i) => ({
        value: [yearX[i], yearY[i], y],
        label: { fontSize: y === '2014' ? 56 : 42 }
    })),
    label: {
        show: true,
        position: 'inside',
        color: '#000000',
        opacity: 1,
        fontFamily: 'Lato',
        formatter: p => p.value[2]
    }
});

const chart = echarts.init(document.getElementById('chart'), null, { renderer: 'canvas' });
chart.setOption({
    animation: false,
    backgroundColor: '#fff',
    title: {
        text: 'Figure 2A',
        left: 48,
        top: 54,
        padding: 0,
        textStyle: { fontFamily: 'Lato', fontWeight: 'normal', fontSize: 106, color: '#000' }
    },
    grid: grids,
    xAxis: xAxes,
    yAxis: yAxes,
    legend: [
        {
            orient: 'vertical',
            left: 321,
            top: 1182,
            padding: 0,
            itemWidth: 40,
            itemHeight: 18,
            itemGap: 7.5,
            selectedMode: false,
            icon: 'circle',
            data: ['ENCODE member', 'non-member', 'ENCODE member broker', 'non-member broker'],
            textStyle: { fontFamily: 'Liberation Sans', fontSize: 36.7, lineHeight: 36, color: '#000', padding: [0, 0, 0, 9] }
        },
        {
            orient: 'vertical',
            left: 315,
            top: 1360,
            padding: 0,
            itemWidth: 69,
            itemHeight: 6,
            selectedMode: false,
            data: [{ name: 'co-authorship', icon: 'rect', itemStyle: { color: '#999999' } }],
            textStyle: { fontFamily: 'Liberation Sans', fontSize: 34.5, lineHeight: 36, color: '#000', padding: [0, 0, 0, 13] }
        }
    ],
    series: series
});
</script>
</body>
</html>
